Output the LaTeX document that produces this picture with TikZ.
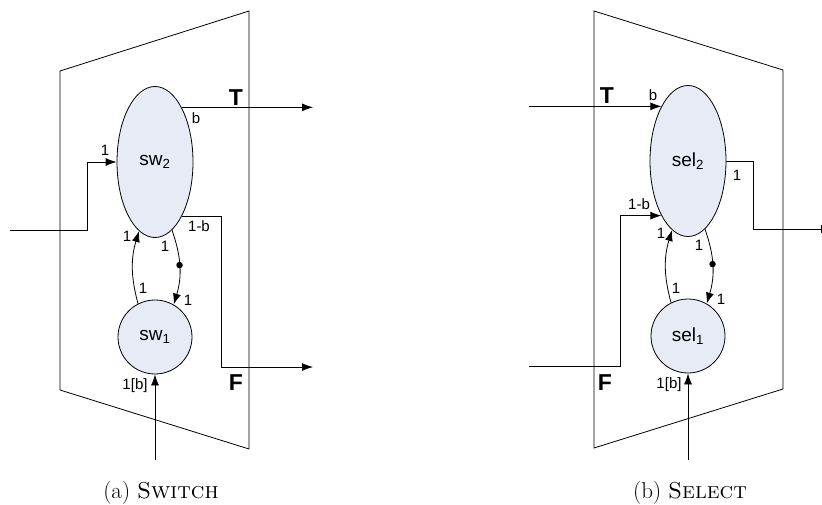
\documentclass[tikz,border=0pt]{standalone}
\usepackage{fontspec}
\newfontfamily\arialfont{Liberation Sans}
\usepackage{xcolor}
\usepackage{tikz}
\usetikzlibrary{calc, shapes.geometric, positioning, arrows.meta}
\definecolor{actorfill}{RGB}{230,235,246}

\begin{document}
\begin{tikzpicture}[>={Latex[length=11pt,width=8pt]}, x=1pt, y=-1pt, line width=0.8pt,
    bigactor/.style={ellipse, draw, fill=actorfill, minimum width=76pt, minimum height=151pt, inner sep=0pt,
        font=\arialfont\fontsize{19}{19}\selectfont},
    smallactor/.style={circle, draw, fill=actorfill, minimum size=74pt, inner sep=0pt,
        font=\arialfont\fontsize{19}{19}\selectfont},
    rate/.style={inner sep=0pt, font=\arialfont\fontsize{15}{15}\selectfont},
    port/.style={inner sep=0pt, font=\arialfont\bfseries\fontsize{23}{23}\selectfont},
    token/.style={circle, fill, inner sep=0pt, minimum size=6.5pt}]
    \useasboundingbox (0,0) rectangle (822,505);

    % 1. Khung hinh thang (a) Switch
    \draw (60,71) -- (249,11) -- (249,449) -- (60,390) -- cycle;
    \node[bigactor] (sw2) at (155,162) {sw\textsubscript{2}};
    \node[smallactor] (sw1) at (155,337) {sw\textsubscript{1}};
    \coordinate (inA) at (10,230);
    \coordinate (jA) at (87,162);
    \coordinate (outT) at (313,0);
    \coordinate (jF) at (221,367);
    \coordinate (outF) at (313,367);
    \coordinate (botA) at (155,460);

    % 2. Cac cung noi (a)
    \draw[->] (inA) -| (jA) -- (sw2.west);
    \draw[->] (sw2.64) -- (sw2.64 -| outT);
    \draw[->] (sw2.-64) -| (jF) -- (outF);
    \draw[->] (botA) -- (sw1.south);
    \draw[->] (sw1.117) to[bend left=16] (sw2.257);
    \draw[->] (sw2.-76) to[bend left=18] node[token, pos=0.47] (dotA) {} (sw1.60);

    % 3. Nhan (a)
    \node[port] (TA) at (236,98) {T};
    \node[port] (FA) at (236,383) {F};
    \node[rate] (rA1) at (105,150) {1};
    \node[rate] (rA2) at (196,118) {b};
    \node[rate] (rA3) at (199,226) {1-b};
    \node[rate] (rA4) at (135,386) {1[b]};
    \node[rate] (rA5) at (127,236) {1};
    \node[rate] (rA6) at (143,288) {1};
    \node[rate] (rA7) at (165,246) {1};
    \node[rate] (rA8) at (188,300) {1};
    \node (capA) at (161,493) {\fontsize{23}{23}\selectfont (a) \textsc{Switch}};

    % 4. Khung hinh thang (b) Select
    \draw (594,11) -- (783,70) -- (783,389) -- (594,448) -- cycle;
    \node[bigactor] (sel2) at (688,161) {sel\textsubscript{2}};
    \node[smallactor] (sel1) at (688,336) {sel\textsubscript{1}};
    \coordinate (inT) at (529,0);
    \coordinate (inF) at (529,366);
    \coordinate (jB) at (620,0);
    \coordinate (jO) at (753,229);
    \coordinate (outB) at (832,229);
    \coordinate (botB) at (688,460);

    % 5. Cac cung noi (b)
    \draw[->] (sel2.116 -| inT) -- (sel2.116);
    \draw[->] (inF) -| (sel2.244 -| jB) -- (sel2.244);
    \draw[->] (sel2.east) -| (jO) -- (outB);
    \draw[->] (botB) -- (sel1.south);
    \draw[->] (sel1.117) to[bend left=16] (sel2.257);
    \draw[->] (sel2.-76) to[bend left=18] node[token, pos=0.47] (dotB) {} (sel1.60);

    % 6. Nhan (b)
    \node[port] (TB) at (607,96) {T};
    \node[port] (FB) at (605,383) {F};
    \node[rate] (rB1) at (653,95) {b};
    \node[rate] (rB2) at (639,204) {1-b};
    \node[rate] (rB3) at (737,175) {1};
    \node[rate] (rB4) at (669,385) {1[b]};
    \node[rate] (rB5) at (661,233) {1};
    \node[rate] (rB6) at (676,288) {1};
    \node[rate] (rB7) at (699,245) {1};
    \node[rate] (rB8) at (721,299) {1};
    \node (capB) at (690,493) {\fontsize{23}{23}\selectfont (b) \textsc{Select}};
\end{tikzpicture}
\end{document}
